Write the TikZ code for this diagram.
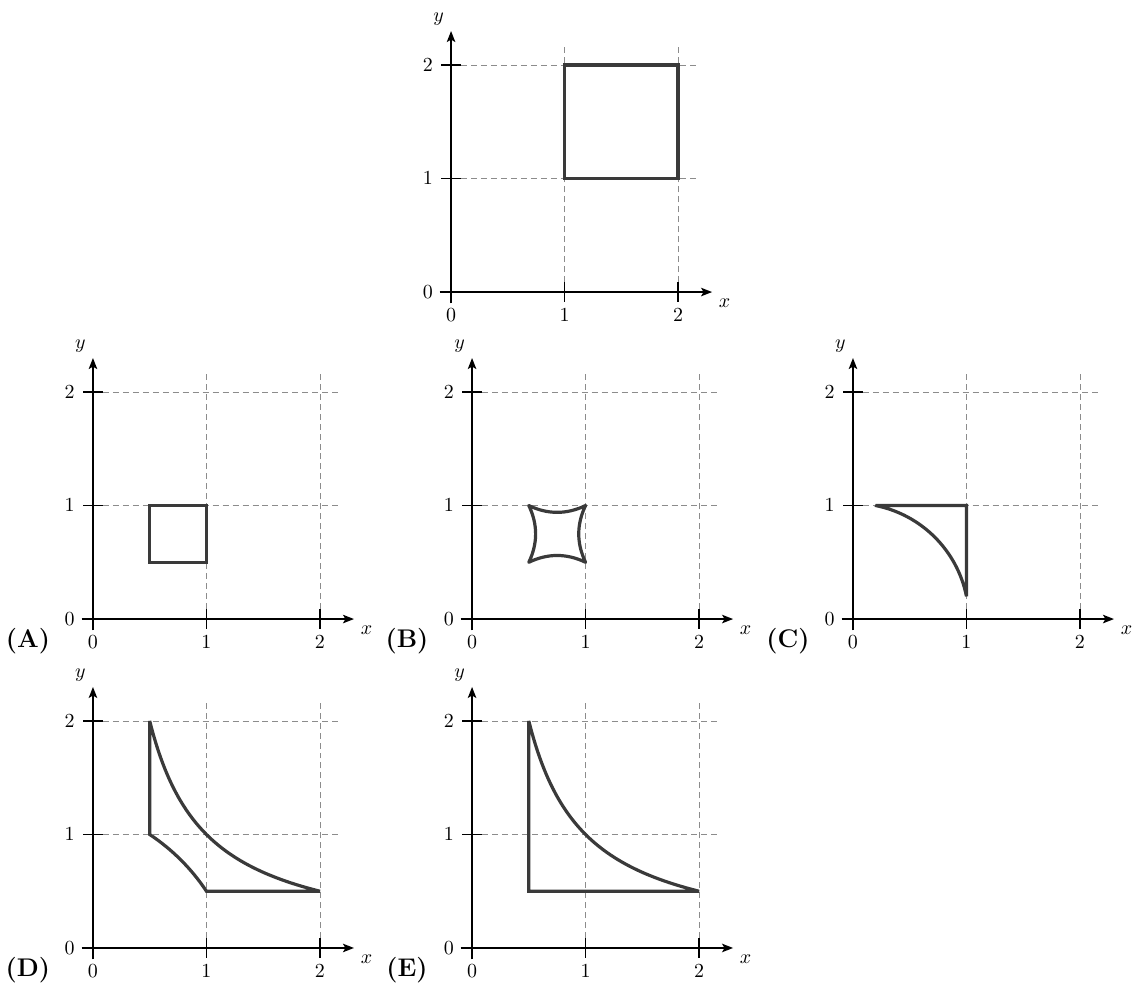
\documentclass[tikz,border=0pt]{standalone}
\usetikzlibrary{arrows.meta}
\definecolor{shapecol}{HTML}{3A3A3A}
\definecolor{gridcol}{HTML}{8C8C8C}
\tikzset{
  axisline/.style={line width=1pt,-{Stealth[length=5.5pt,width=4.2pt,inset=1.2pt]}},
  tickmark/.style={line width=0.9pt},
  gridline/.style={draw=gridcol,line width=0.45pt,dash pattern=on 3pt off 2pt},
  figline/.style={draw=shapecol,line width=1.6pt,line join=miter,miter limit=2.5},
  ticklabel/.style={font=\fontsize{10}{12}\selectfont,inner sep=0pt},
  panellabel/.style={font=\fontsize{12.8}{15}\selectfont\bfseries,inner sep=0pt},
}
\newcommand\myaxes{%
  \foreach \t in {1,2}{
    \coordinate (gh\t s) at (0,\t);
    \coordinate (gh\t e) at (2.17,\t);
    \coordinate (gv\t s) at (\t,0);
    \coordinate (gv\t e) at (\t,2.17);
    \draw[gridline] (gh\t s) -- (gh\t e);
    \draw[gridline] (gv\t s) -- (gv\t e);
  }
  \coordinate (xs) at (-0.1,0);
  \coordinate (xe) at (2.3,0);
  \coordinate (ys) at (0,-0.1);
  \coordinate (ye) at (0,2.3);
  \draw[axisline] (xs) -- (xe);
  \draw[axisline] (ys) -- (ye);
  \foreach \t in {0,1,2}{
    \coordinate (tx\t a) at (\t,-0.085);
    \coordinate (tx\t b) at (\t,0.085);
    \coordinate (ty\t a) at (-0.085,\t);
    \coordinate (ty\t b) at (0.085,\t);
    \draw[tickmark] (tx\t a) -- (tx\t b);
    \draw[tickmark] (ty\t a) -- (ty\t b);
    \node[ticklabel] (xl\t) at (\t,-0.2) {$\t$};
    \node[ticklabel] (yl\t) at (-0.205,\t) {$\t$};
  }
  \node[ticklabel] (xlab) at (2.41,-0.1) {$x$};
  \node[ticklabel] (ylab) at (-0.11,2.40) {$y$};
}
\begin{document}
\begin{tikzpicture}[x=2cm,y=2cm]
\useasboundingbox (0,0) rectangle (9.991,-8.696);

% top
\begin{scope}[shift={(3.974,-2.573)},name prefix=T-]
  \myaxes
  \draw[figline] (1,1) rectangle (2,2);
\end{scope}

% A
\begin{scope}[shift={(0.819,-5.454)},name prefix=A-]
  \myaxes
  \draw[figline] (0.5,0.5) rectangle (1,1);
  \node[panellabel] (lab) at (-0.573,-0.194) {(A)};
\end{scope}

% B
\begin{scope}[shift={(4.159,-5.454)},name prefix=B-]
  \myaxes
  \draw[figline,line join=round] (0.5,1) .. controls (0.6667,0.92) and (0.8333,0.92) .. (1,1)
     .. controls (0.92,0.8333) and (0.92,0.6667) .. (1,0.5)
     .. controls (0.8333,0.58) and (0.6667,0.58) .. (0.5,0.5)
     .. controls (0.58,0.6667) and (0.58,0.8333) .. (0.5,1) -- cycle;
  \node[panellabel] (lab) at (-0.573,-0.194) {(B)};
\end{scope}

% C
\begin{scope}[shift={(7.515,-5.454)},name prefix=C-]
  \myaxes
  \draw[figline] (0.2,1) -- (1,1) -- (1,0.2) arc[start angle=11.31,end angle=78.69,radius=1.0198] -- cycle;
  \node[panellabel] (lab) at (-0.573,-0.194) {(C)};
\end{scope}

% D
\begin{scope}[shift={(0.819,-8.352)},name prefix=D-]
  \myaxes
  \draw[figline] (0.5,2) -- (0.5,1) .. controls (0.7,0.8667) and (0.8667,0.7) .. (1,0.5) -- (2,0.5)
     -- plot[domain=2:0.5,samples=80] (\x,{1/\x}) -- cycle;
  \node[panellabel] (lab) at (-0.573,-0.194) {(D)};
\end{scope}

% E
\begin{scope}[shift={(4.159,-8.352)},name prefix=E-]
  \myaxes
  \draw[figline] (0.5,2) -- (0.5,0.5) -- (2,0.5)
     -- plot[domain=2:0.5,samples=80] (\x,{1/\x}) -- cycle;
  \node[panellabel] (lab) at (-0.573,-0.194) {(E)};
\end{scope}
\end{tikzpicture}
\end{document}
